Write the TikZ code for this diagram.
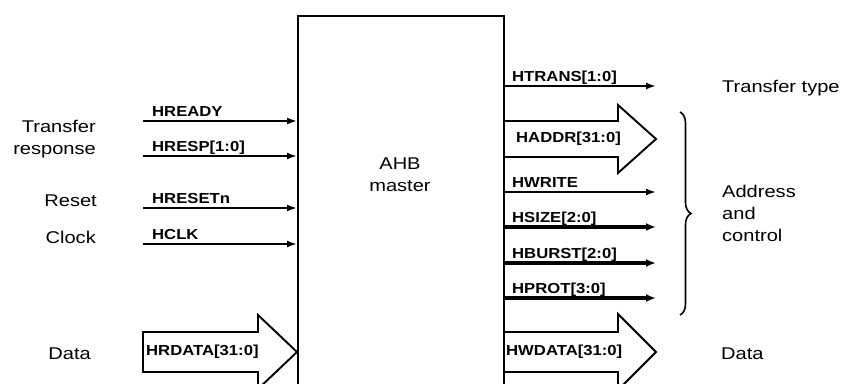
\documentclass[tikz,border=0pt]{standalone}
\usepackage{fontspec}
\setmainfont{Liberation Sans}
\newfontfamily\sigfont[FakeStretch=1.15]{Liberation Sans}
\newfontfamily\labfont[FakeStretch=1.18]{Liberation Sans}
\usetikzlibrary{arrows.meta,decorations.pathreplacing}
\tikzset{
  siglab/.style={font=\sigfont\bfseries\fontsize{14.5}{16}\selectfont, inner sep=0pt, anchor=base west},
  sidelab/.style={font=\labfont\fontsize{17}{22}\selectfont, inner sep=0pt},
  sigline/.style={line width=1.9pt, -{Latex[length=10pt,width=7pt]}},
  busline/.style={line width=3.4pt, -{Latex[length=10pt,width=8pt]}},
  bigarrow/.style={line width=1.9pt, line join=miter, fill=white},
  blk/.style={draw, line width=2.2pt, inner sep=0pt, anchor=north west}
}
\begin{document}
\begin{tikzpicture}[x=1pt,y=-1pt]
\useasboundingbox (0,0) rectangle (843,383);
\clip (0,0) rectangle (843,383);

% master block (open at bottom: extends past the page)
\node[blk, minimum width=206pt, minimum height=400pt] (master) at (297,15) {};
\node[sidelab, align=center, font=\labfont\fontsize{17}{22}\selectfont] (mtext) at (400,175) {AHB\\master};

% ---- left inputs ----
\coordinate (hready) at (143,121);
\coordinate (hresp)  at (143,156);
\coordinate (hreset) at (143,208);
\coordinate (hclk)   at (143,244);
\draw[sigline] (hready) -- (hready -| master.west);
\draw[sigline] (hresp)  -- (hresp -| master.west);
\draw[sigline] (hreset) -- (hreset -| master.west);
\draw[sigline] (hclk)   -- (hclk -| master.west);
\node[siglab] (lhready) at (152,116) {HREADY};
\node[siglab] (lhresp)  at (152,151) {HRESP[1:0]};
\node[siglab] (lhreset) at (152,203) {HRESETn};
\node[siglab] (lhclk)   at (152,239) {HCLK};

% HRDATA big arrow
\coordinate (hrdata) at (143,352);
\draw[bigarrow] (143,332) -- (258,332) -- (258,315) -- (hrdata -| master.west)
  -- (258,389) -- (258,372) -- (143,372) -- cycle;
\node[siglab, anchor=west] (lhrdata) at (146,352) {HRDATA[31:0]};

% left descriptions
\node[sidelab, anchor=east, align=right] (ltr) at (96,139) {Transfer\\response};
\node[sidelab, anchor=east] (lrst) at (97,201) {Reset};
\node[sidelab, anchor=east] (lclk) at (96,237) {Clock};
\node[sidelab, anchor=east] (ldat) at (91,354) {Data};

% ---- right outputs ----
\coordinate (htrans) at (656,86);
\coordinate (hwrite) at (656,192);
\coordinate (hsize)  at (656,227);
\coordinate (hburst) at (656,263);
\coordinate (hprot)  at (656,298);
\draw[sigline] (htrans -| master.east) -- (htrans);
\draw[sigline] (hwrite -| master.east) -- (hwrite);
\draw[busline] (hsize -| master.east) -- (hsize);
\draw[busline] (hburst -| master.east) -- (hburst);
\draw[busline] (hprot -| master.east) -- (hprot);
\node[siglab] (lhtrans) at (512,81)  {HTRANS[1:0]};
\node[siglab] (lhwrite) at (512,187) {HWRITE};
\node[siglab] (lhsize)  at (512,222) {HSIZE[2:0]};
\node[siglab] (lhburst) at (512,258) {HBURST[2:0]};
\node[siglab] (lhprot)  at (512,293) {HPROT[3:0]};

% HADDR big arrow
\coordinate (haddr) at (656,139);
\draw[bigarrow] (master.east |- 0,121) -- (618,121) -- (618,105) -- (haddr)
  -- (618,173) -- (618,157) -- (master.east |- 0,157);
\node[siglab, anchor=west] (lhaddr) at (516,139) {HADDR[31:0]};

% HWDATA big arrow
\coordinate (hwdata) at (656,352);
\draw[bigarrow] (master.east |- 0,332) -- (618,332) -- (618,314) -- (hwdata)
  -- (618,390) -- (618,372) -- (master.east |- 0,372);
\node[siglab, anchor=west] (lhwdata) at (506,352) {HWDATA[31:0]};

% brace
\draw[line width=1.6pt, decorate, decoration={brace, amplitude=11pt}] (680,112) coordinate (bt) -- (680,315) coordinate (bb);

% right descriptions
\node[sidelab, anchor=west] (rtt) at (722,88) {Transfer type};
\node[sidelab, anchor=west, align=left] (rac) at (722,213) {Address\\and\\control};
\node[sidelab, anchor=west] (rdat) at (721,354) {Data};
\end{tikzpicture}
\end{document}
